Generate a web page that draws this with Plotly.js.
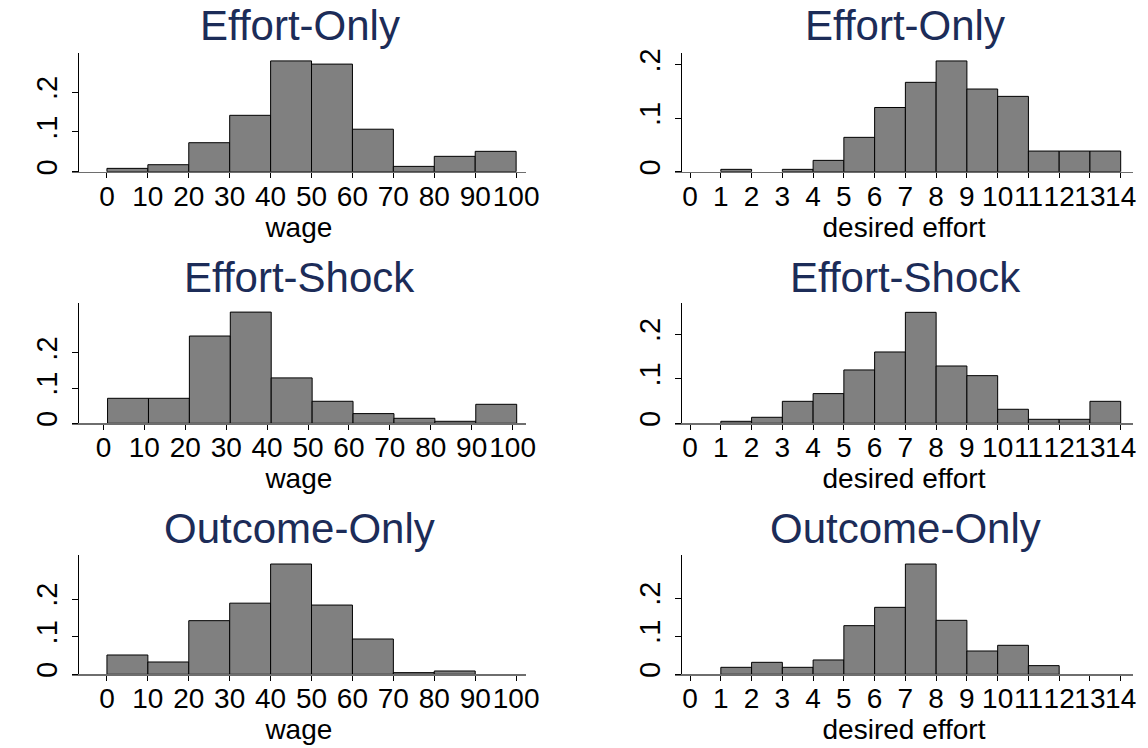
<!DOCTYPE html>
<html><head><meta charset="utf-8">
<script src="https://cdn.plot.ly/plotly-3.0.1.min.js"></script>
<style>html,body{margin:0;padding:0;background:#fff}#chart{width:1148px;height:748px}</style>
</head><body><div id="chart"></div>
<script>
// ---- data ----
const panelTitles = ['Effort-Only', 'Effort-Shock', 'Outcome-Only'];
const wageAxisTitle = 'wage';
const effortAxisTitle = 'desired effort';
const wageTickValues = [0,10,20,30,40,50,60,70,80,90,100];
const wageTickLabels = ['0','10','20','30','40','50','60','70','80','90','100'];
const effortTickValues = [0,1,2,3,4,5,6,7,8,9,10,11,12,13,14];
const effortTickLabels = ['0','1','2','3','4','5','6','7','8','9','10','11','12','13','14'];
const yTickValues = [0, 0.1, 0.2];
const yTickLabels = ['0', '.1', '.2'];

const wageBinWidth = 10;
const effortBinWidth = 1;

// Effort-Only
const wageBinStartEffortOnly = [0,10,20,30,40,50,60,70,80,90];
const wageFracEffortOnly     = [0.0084,0.0176,0.073,0.142,0.279,0.271,0.107,0.0134,0.0387,0.0513];
const effortBinStartEffortOnly = [0,1,2,3,4,5,6,7,8,9,10,11,12,13];
const effortFracEffortOnly     = [0,0.0044,0,0.0044,0.0212,0.0642,0.120,0.167,0.207,0.1545,0.1408,0.0386,0.0386,0.0386];

// Effort-Shock
const wageBinStartEffortShock = [1,11,21,31,41,51,61,71,81,91];
const wageFracEffortShock     = [0.071,0.071,0.248,0.316,0.129,0.0626,0.0275,0.0142,0.0057,0.054];
const effortBinStartEffortShock = [0,1,2,3,4,5,6,7,8,9,10,11,12,13];
const effortFracEffortShock     = [0,0.0045,0.0135,0.0494,0.0667,0.1199,0.1603,0.2494,0.1288,0.1071,0.0315,0.009,0.009,0.0494];

// Outcome-Only
const wageBinStartOutcomeOnly = [0,10,20,30,40,50,60,70,80,90];
const wageFracOutcomeOnly     = [0.0513,0.0327,0.1425,0.189,0.293,0.184,0.0938,0.0044,0.0088,0];
const effortBinStartOutcomeOnly = [0,1,2,3,4,5,6,7,8,9,10,11,12,13];
const effortFracOutcomeOnly     = [0,0.0183,0.0314,0.0183,0.0376,0.1275,0.1755,0.289,0.1415,0.0611,0.076,0.0227,0,0];

// ---- layout helpers ----
const W = 1148, H = 748;
const px = v => v / W;
const py = v => 1 - v / H;

const FONT = 'Liberation Sans, Arial, sans-serif';
const TITLE_COLOR = '#1c2c58';

const panels = [
  {starts: wageBinStartEffortOnly,   fr: wageFracEffortOnly,   bw: wageBinWidth,   kind: 'wage',   row: 0, col: 0, xr: [-8.54, 102.34], ytop: 0.2997},
  {starts: effortBinStartEffortOnly, fr: effortFracEffortOnly, bw: effortBinWidth, kind: 'effort', row: 0, col: 1, xr: [-0.49, 14.4],   ytop: 0.2224},
  {starts: wageBinStartEffortShock,  fr: wageFracEffortShock,  bw: wageBinWidth,   kind: 'wage',   row: 1, col: 0, xr: [-7.69, 103.2],  ytop: 0.341},
  {starts: effortBinStartEffortShock,fr: effortFracEffortShock,bw: effortBinWidth, kind: 'effort', row: 1, col: 1, xr: [-0.49, 14.4],   ytop: 0.2697},
  {starts: wageBinStartOutcomeOnly,  fr: wageFracOutcomeOnly,  bw: wageBinWidth,   kind: 'wage',   row: 2, col: 0, xr: [-8.54, 102.34], ytop: 0.317},
  {starts: effortBinStartOutcomeOnly,fr: effortFracOutcomeOnly,bw: effortBinWidth, kind: 'effort', row: 2, col: 1, xr: [-0.49, 14.4],   ytop: 0.3127}
];

const colX = [
  {x0: 72, x1: 525.7, yaxisAt: 77.5},
  {x0: 675, x1: 1133, yaxisAt: 680.5}
];
const rowY = [
  {top: 52.7, base: 171.7, title: 25.5},
  {top: 303.3, base: 423.3, title: 277},
  {top: 555, base: 674.3, title: 528.5}
];

const data = [];
const layout = {
  width: W, height: H,
  margin: {l: 0, r: 0, t: 0, b: 0},
  paper_bgcolor: '#fff', plot_bgcolor: 'rgba(0,0,0,0)',
  showlegend: false,
  font: {family: FONT, color: '#000', size: 28},
  annotations: []
};

panels.forEach((p, i) => {
  const n = i + 1;
  const xa = 'x' + n, ya = 'y' + n;
  data.push({
    type: 'bar',
    x: p.starts, y: p.fr,
    offset: 0, width: p.bw,
    marker: {color: '#808080', line: {color: '#000', width: p.fr.map(v => v > 0 ? 1 : 0)}},
    xaxis: xa, yaxis: ya,
    hoverinfo: 'x+y'
  });
  const c = colX[p.col], r = rowY[p.row];
  const isWage = p.kind === 'wage';
  layout['xaxis' + n] = {
    domain: [px(c.x0), px(c.x1)],
    anchor: ya,
    range: p.xr,
    tickmode: 'array',
    tickvals: isWage ? wageTickValues : effortTickValues,
    ticktext: isWage ? wageTickLabels : effortTickLabels,
    tickangle: 0,
    ticks: 'outside', ticklen: 5, tickwidth: 1, tickcolor: '#000',
    showline: true, linecolor: '#6e6e6e', linewidth: 1.5,
    showgrid: false, zeroline: false,
    tickfont: {size: 28, family: FONT, color: '#000'},
    ticklabelstandoff: -6,
    title: {text: isWage ? wageAxisTitle : effortAxisTitle, font: {size: 28, family: FONT, color: '#000'}, standoff: 0},
    fixedrange: true
  };
  layout['yaxis' + n] = {
    domain: [py(r.base), py(r.top)],
    anchor: 'free',
    position: px(c.yaxisAt),
    range: [0, p.ytop],
    tickmode: 'array',
    tickvals: yTickValues,
    ticktext: yTickLabels,
    tickangle: -90,
    ticks: 'outside', ticklen: 6, tickwidth: 1, tickcolor: '#000',
    showline: true, linecolor: '#000', linewidth: 1,
    showgrid: false, zeroline: false,
    tickfont: {size: 29, family: FONT, color: '#000'},
    ticklabelstandoff: 3,
    fixedrange: true
  };
  layout.annotations.push({
    text: panelTitles[p.row], xref: 'paper', yref: 'paper',
    x: px((c.x0 + c.x1) / 2 + 1), y: py(r.title), xanchor: 'center', yanchor: 'middle',
    showarrow: false, font: {size: 42, family: FONT, color: TITLE_COLOR}
  });
});

Plotly.newPlot('chart', data, layout, {displayModeBar: false, staticPlot: true});
</script>
</body></html>
